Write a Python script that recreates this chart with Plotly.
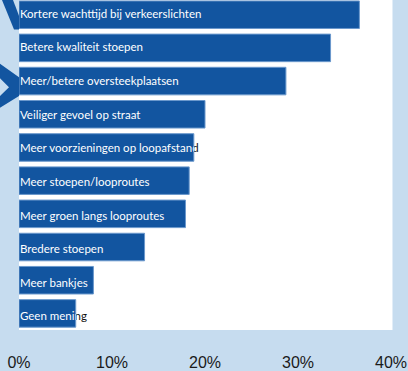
import plotly.graph_objects as go

# Survey answers, top to bottom, with share of respondents (%)
categories = [
    "Kortere wachttijd bij verkeerslichten",
    "Betere kwaliteit stoepen",
    "Meer/betere oversteekplaatsen",
    "Veiliger gevoel op straat",
    "Meer voorzieningen op loopafstand",
    "Meer stoepen/looproutes",
    "Meer groen langs looproutes",
    "Bredere stoepen",
    "Meer bankjes",
    "Geen mening",
]
shares = [36.6, 33.5, 28.7, 20.0, 18.8, 18.3, 17.9, 13.5, 8.0, 6.1]
x_ticks = [0, 10, 20, 30, 40]
x_tick_labels = ["0%", "10%", "20%", "30%", "40%"]

W, H = 408, 371
M_L, M_R, M_T, M_B = 19, 17, 0, 34
PLOT_W = W - M_L - M_R
PLOT_H = H - M_T - M_B
X_MAX = 40
Y_RANGE = [9.5, -0.443]

BAR_BLUE = "#1255a0"
BG_BLUE = "#c6dcef"
LABEL_FONT = dict(family="Lato", size=11.5)

n = len(categories)
y_pos = list(range(n))
# label baseline drifts slightly downward relative to the bars
label_y = [i * 1.014 for i in y_pos]
label_x = 0.1

fig = go.Figure()

# Labels in dark ink, sitting underneath the bars: only the part that
# runs past the end of a bar stays visible.
fig.add_trace(
    go.Scatter(
        x=[label_x] * n,
        y=label_y,
        mode="text",
        text=categories,
        textposition="middle right",
        textfont=dict(color="#111111", **LABEL_FONT),
        cliponaxis=False,
        hoverinfo="skip",
        xaxis="x",
        yaxis="y",
    )
)

# Bars on an overlaid axis so they are painted over the dark labels
fig.add_trace(
    go.Bar(
        x=shares,
        y=y_pos,
        orientation="h",
        marker=dict(color=BAR_BLUE, line=dict(color="#6a98cc", width=1)),
        width=0.83,
        hoverinfo="skip",
        xaxis="x2",
        yaxis="y",
    )
)

# White copy of each label, clipped to the extent of its own bar
hidden_axis = dict(visible=False, showgrid=False, zeroline=False, fixedrange=True)
axes = {}
for i, (name, val) in enumerate(zip(categories, shares)):
    ax_id = i + 3
    fig.add_trace(
        go.Scatter(
            x=[label_x],
            y=[label_y[i]],
            mode="text",
            text=[name],
            textposition="middle right",
            textfont=dict(color="#ffffff", **LABEL_FONT),
            cliponaxis=True,
            hoverinfo="skip",
            xaxis=f"x{ax_id}",
            yaxis="y",
        )
    )
    axes[f"xaxis{ax_id}"] = dict(
        domain=[0, val / X_MAX], range=[0, val], anchor="y", **hidden_axis
    )


def px_path(points):
    def conv(p):
        return f"{(p[0] - M_L) / PLOT_W:.5f},{1 - (p[1] - M_T) / PLOT_H:.5f}"

    return "M " + " L ".join(conv(p) for p in points) + " Z"


# White plotting panel
fig.add_shape(
    type="rect", xref="paper", yref="paper", x0=0, x1=1.004, y0=0, y1=1,
    fillcolor="#ffffff", line=dict(width=0), layer="below",
)

# Decorative chevrons in the left margin
chevrons = [
    [(2, 0), (13, 0), (19, 16), (19, 30), (14, 30)],
    [(0, 65), (19, 79), (19, 98), (0, 110), (0, 98), (9, 89), (0, 80)],
]
for pts in chevrons:
    fig.add_shape(
        type="path", xref="paper", yref="paper", path=px_path(pts),
        fillcolor=BAR_BLUE, line=dict(width=0), layer="below",
    )

fig.update_layout(
    width=W,
    height=H,
    margin=dict(l=M_L, r=M_R, t=M_T, b=M_B),
    paper_bgcolor=BG_BLUE,
    plot_bgcolor="rgba(0,0,0,0)",
    showlegend=False,
    xaxis=dict(
        range=[0, X_MAX],
        tickvals=x_ticks,
        ticktext=x_tick_labels,
        showgrid=False,
        zeroline=False,
        showline=False,
        ticks="",
        ticklabelstandoff=21,
        tickfont=dict(family="Liberation Sans", size=16, color="#1a1a1a"),
        fixedrange=True,
    ),
    xaxis2=dict(overlaying="x", range=[0, X_MAX], **hidden_axis),
    yaxis=dict(
        range=Y_RANGE,
        showticklabels=False,
        showgrid=False,
        zeroline=False,
        showline=False,
        ticks="",
        fixedrange=True,
    ),
    **axes,
)

fig.write_html("out.html")
